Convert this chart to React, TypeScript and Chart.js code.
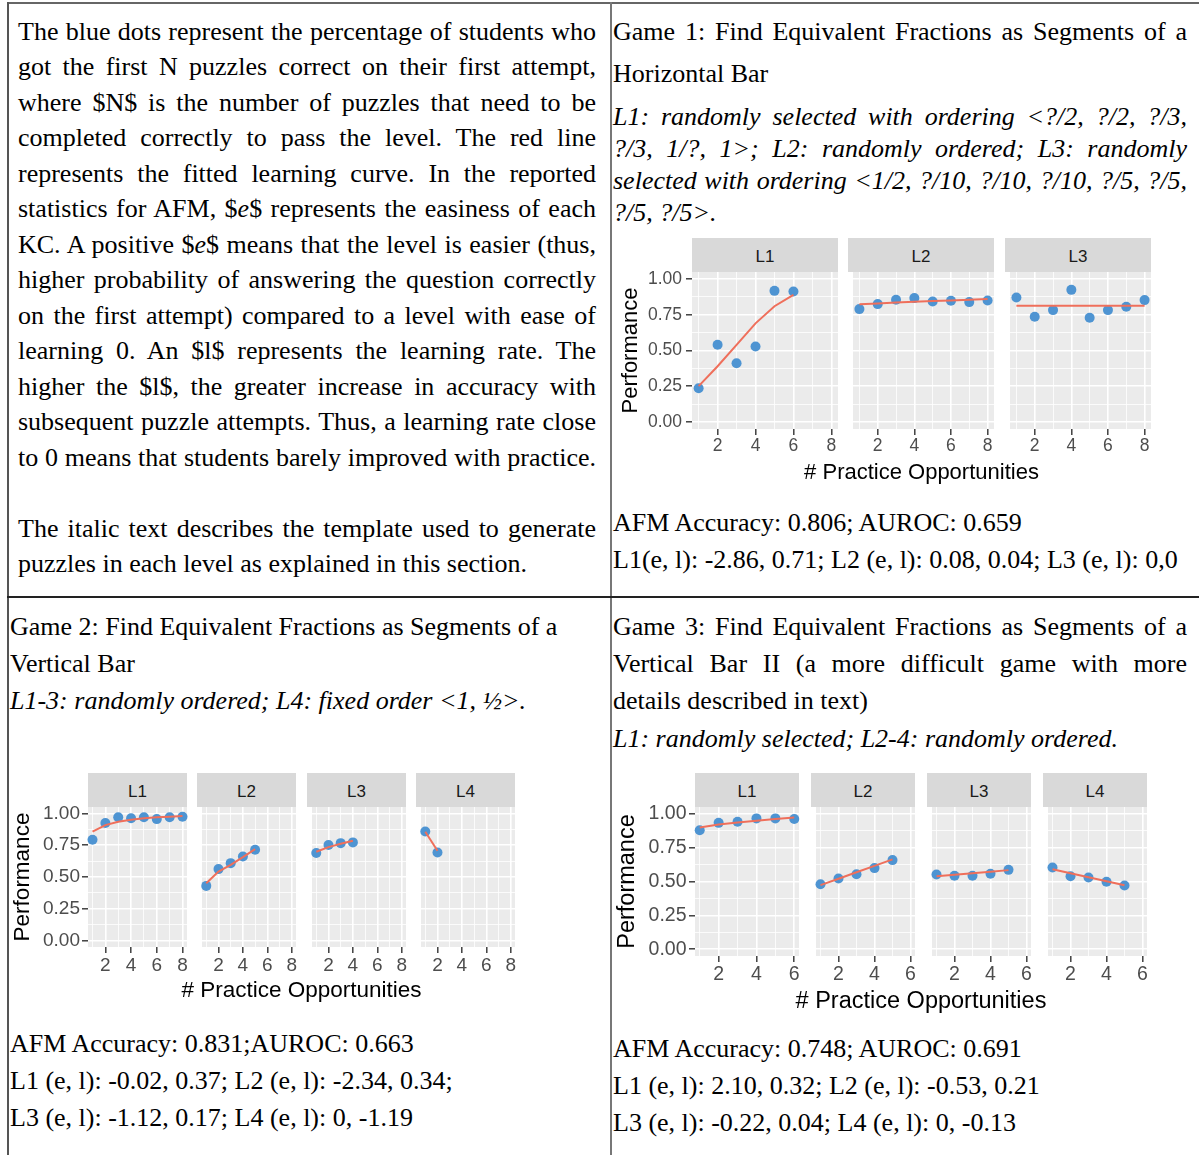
import React, { useEffect, useRef } from 'react';
import { Chart, registerables } from 'chart.js';

Chart.register(...registerables);

// ---------- data ----------
const game1Levels = ['L1', 'L2', 'L3'];
const game1Observed = [
  [0.236, 0.54, 0.411, 0.528, 0.918, 0.914],
  [0.79, 0.825, 0.855, 0.867, 0.843, 0.848, 0.839, 0.85],
  [0.871, 0.736, 0.783, 0.925, 0.729, 0.783, 0.806, 0.853],
];
const game1Fitted = [
  [0.25, 0.39, 0.54, 0.69, 0.81, 0.89],
  [0.824, 0.83, 0.836, 0.841, 0.846, 0.851, 0.856, 0.861],
  [0.813, 0.813, 0.813, 0.813, 0.813, 0.813, 0.813, 0.813],
];
const game1XTicks = [2, 4, 6, 8];

const game2Levels = ['L1', 'L2', 'L3', 'L4'];
const game2Observed = [
  [0.793, 0.924, 0.969, 0.961, 0.969, 0.955, 0.969, 0.974],
  [0.43, 0.562, 0.609, 0.661, 0.714],
  [0.688, 0.751, 0.766, 0.772],
  [0.858, 0.693],
];
const game2Fitted = [
  [0.856, 0.908, 0.934, 0.95, 0.961, 0.969, 0.974, 0.979],
  [0.451, 0.543, 0.596, 0.656, 0.719],
  [0.698, 0.735, 0.761, 0.785],
  [0.856, 0.706],
];
const game2XTicks = [2, 4, 6, 8];

const game3Levels = ['L1', 'L2', 'L3', 'L4'];
const game3Observed = [
  [0.879, 0.933, 0.941, 0.966, 0.966, 0.961],
  [0.48, 0.522, 0.554, 0.599, 0.658],
  [0.552, 0.542, 0.542, 0.557, 0.586],
  [0.603, 0.539, 0.53, 0.498, 0.47],
];
const game3Fitted = [
  [0.899, 0.921, 0.936, 0.948, 0.961, 0.973],
  [0.473, 0.52, 0.568, 0.615, 0.663],
  [0.539, 0.55, 0.561, 0.572, 0.584],
  [0.591, 0.561, 0.532, 0.502, 0.473],
];
const game3XTicks = [2, 4, 6];

const yTickValues = [0, 0.25, 0.5, 0.75, 1];
const yTickLabels = ['0.00', '0.25', '0.50', '0.75', '1.00'];
const yAxisTitle = 'Performance';
const xAxisTitle = '# Practice Opportunities';

// ---------- styling ----------
const BLUE = '#4e94d2';
const RED = '#ef6f5b';
const SANS = '"Liberation Sans", Arial, Helvetica, sans-serif';
const SERIF = '"Liberation Serif", "Times New Roman", serif';
const TOP_PAD = 10;
const RIGHT_PAD = 8;
const X_AXIS_H = 34;

type Layout = {
  panelLefts: number[];
  panelW: number;
  stripTop: number;
  panelTop: number;
  panelBottom: number;
  tickFont: number;
  titleFont: number;
  yTitleX: number;
  xTitleY: number;
  yLabelPad: number;
  xLabelPad: number;
};

const game1Layout: Layout = {
  panelLefts: [692, 848, 1005], panelW: 146, stripTop: 238, panelTop: 272, panelBottom: 429,
  tickFont: 17.5, titleFont: 22, yTitleX: 631, xTitleY: 472, yLabelPad: 4, xLabelPad: 1,
};
const game2Layout: Layout = {
  panelLefts: [88, 197, 307, 416], panelW: 99, stripTop: 773, panelTop: 807, panelBottom: 947,
  tickFont: 19, titleFont: 22.5, yTitleX: 23, xTitleY: 990, yLabelPad: 2, xLabelPad: 1,
};
const game3Layout: Layout = {
  panelLefts: [695, 811, 927, 1043], panelW: 104, stripTop: 773, panelTop: 807, panelBottom: 956,
  tickFont: 19.5, titleFont: 23.5, yTitleX: 628, xTitleY: 1000, yLabelPad: 2.5, xLabelPad: 1,
};

const panelBackground = {
  id: 'panelBackground',
  beforeDraw(chart: any) {
    const { ctx, chartArea } = chart;
    ctx.save();
    ctx.fillStyle = '#ebebeb';
    ctx.fillRect(chartArea.left, chartArea.top, chartArea.right - chartArea.left, chartArea.bottom - chartArea.top);
    ctx.restore();
  },
};

type FacetProps = {
  observed: number[];
  fitted: number[];
  xTicks: number[];
  layout: Layout;
  index: number;
};

function Facet({ observed, fitted, xTicks, layout, index }: FacetProps) {
  const ref = useRef<HTMLCanvasElement>(null);
  const first = index === 0;
  const panelLeft = layout.panelLefts[index];
  const panelH = layout.panelBottom - layout.panelTop;
  const yAxisW = first ? panelLeft - Math.round(layout.yTitleX - layout.titleFont / 2) : 0;
  const canvasLeft = panelLeft - yAxisW;
  const canvasTop = layout.panelTop - TOP_PAD;
  const width = yAxisW + layout.panelW + RIGHT_PAD;
  const height = TOP_PAD + panelH + X_AXIS_H;

  useEffect(() => {
    const lastTick = xTicks[xTicks.length - 1];
    const xGrid: number[] = [];
    for (let v = 1; v <= lastTick; v++) xGrid.push(v);
    const spread = (lastTick - 1) * 0.05;
    const yGrid: number[] = [];
    yTickValues.forEach((v, i) => {
      yGrid.push(v);
      if (i < yTickValues.length - 1) yGrid.push((v + yTickValues[i + 1]) / 2);
    });
    const isMajorX = (v: number) => xTicks.includes(v);
    const isMajorY = (v: number) => yTickValues.includes(v);
    const zeroPad = (s: any) => {
      s.paddingLeft = 0; s.paddingRight = 0; s.paddingTop = 0; s.paddingBottom = 0;
    };

    const chart = new Chart(ref.current as HTMLCanvasElement, {
      type: 'scatter',
      data: {
        datasets: [
          {
            data: fitted.map((y, i) => ({ x: i + 1, y })),
            showLine: true,
            borderColor: RED,
            borderWidth: 2,
            pointRadius: 0,
            clip: false,
          } as any,
          {
            data: observed.map((y, i) => ({ x: i + 1, y })),
            pointRadius: 5,
            pointBackgroundColor: BLUE,
            pointBorderWidth: 0,
            clip: false,
          } as any,
        ],
      },
      options: {
        animation: false,
        responsive: false,
        maintainAspectRatio: false,
        layout: { padding: { top: TOP_PAD, right: RIGHT_PAD, left: 0, bottom: 0 } },
        plugins: { legend: { display: false }, tooltip: { enabled: false } },
        scales: {
          x: {
            type: 'linear',
            min: 1 - spread,
            max: lastTick + spread,
            afterBuildTicks: (s: any) => { s.ticks = xGrid.map((v) => ({ value: v })); },
            afterFit: (s: any) => { s.height = X_AXIS_H; zeroPad(s); },
            border: { display: false },
            grid: {
              color: '#ffffff',
              lineWidth: (c: any) => (c.tick && isMajorX(c.tick.value) ? 1.6 : 0.8),
              drawTicks: true,
              tickLength: 6,
              tickWidth: 1.4,
              tickColor: (c: any) => (c.tick && isMajorX(c.tick.value) ? '#333333' : 'rgba(0,0,0,0)'),
            },
            ticks: {
              autoSkip: false,
              maxRotation: 0,
              minRotation: 0,
              padding: layout.xLabelPad,
              color: '#4d4d4d',
              font: { family: SANS, size: layout.tickFont },
              callback: (v: any) => (isMajorX(Number(v)) ? String(v) : ''),
            },
          },
          y: {
            type: 'linear',
            min: -0.05,
            max: 1.05,
            afterBuildTicks: (s: any) => { s.ticks = yGrid.map((v) => ({ value: v })); },
            afterFit: (s: any) => { s.width = yAxisW; zeroPad(s); },
            border: { display: false },
            grid: {
              color: '#ffffff',
              lineWidth: (c: any) => (c.tick && isMajorY(c.tick.value) ? 1.6 : 0.8),
              drawTicks: first,
              tickLength: 6,
              tickWidth: 1.4,
              tickColor: (c: any) => (c.tick && isMajorY(c.tick.value) ? '#333333' : 'rgba(0,0,0,0)'),
            },
            ticks: {
              display: first,
              autoSkip: false,
              padding: layout.yLabelPad,
              color: '#4d4d4d',
              font: { family: SANS, size: layout.tickFont },
              callback: (v: any) => {
                const k = yTickValues.indexOf(Number(v));
                return k >= 0 ? yTickLabels[k] : '';
              },
            },
            title: {
              display: first,
              text: yAxisTitle,
              color: '#000000',
              padding: 0,
              font: { family: SANS, size: layout.titleFont, lineHeight: 1 },
            },
          },
        },
      } as any,
      plugins: [panelBackground],
    });
    return () => chart.destroy();
  }, []);

  return (
    <canvas
      ref={ref}
      width={width}
      height={height}
      style={{ position: 'absolute', left: canvasLeft, top: canvasTop, width, height }}
    />
  );
}

function FacetFigure({ levels, observed, fitted, xTicks, layout }: {
  levels: string[]; observed: number[][]; fitted: number[][]; xTicks: number[]; layout: Layout;
}) {
  const lastLeft = layout.panelLefts[layout.panelLefts.length - 1];
  const titleCenter = (layout.panelLefts[0] + lastLeft + layout.panelW) / 2;
  return (
    <>
      {levels.map((lv, i) => (
        <div
          key={'strip' + lv}
          style={{
            position: 'absolute',
            left: layout.panelLefts[i],
            top: layout.stripTop,
            width: layout.panelW,
            height: layout.panelTop - layout.stripTop,
            background: '#d9d9d9',
            color: '#1a1a1a',
            fontFamily: SANS,
            fontSize: 17,
            display: 'flex',
            alignItems: 'center',
            justifyContent: 'center',
            paddingTop: 3,
            boxSizing: 'border-box',
          }}
        >
          {lv}
        </div>
      ))}
      {levels.map((lv, i) => (
        <Facet key={'facet' + lv} observed={observed[i]} fitted={fitted[i]} xTicks={xTicks} layout={layout} index={i} />
      ))}
      <div
        style={{
          position: 'absolute',
          left: titleCenter - 200,
          width: 400,
          top: layout.xTitleY - 14,
          height: 28,
          lineHeight: '28px',
          textAlign: 'center',
          fontFamily: SANS,
          fontSize: layout.titleFont,
          color: '#000',
          whiteSpace: 'nowrap',
        }}
      >
        {xAxisTitle}
      </div>
    </>
  );
}

type LineSpec = { x: number; w: number; y: number; justify?: boolean; italic?: boolean; content: React.ReactNode };

function TextLine({ x, w, y, justify, italic, content }: LineSpec) {
  return (
    <div
      style={{
        position: 'absolute',
        left: x,
        top: y - 15,
        width: w,
        height: 30,
        lineHeight: '30px',
        fontSize: 26,
        fontFamily: SERIF,
        fontStyle: italic ? 'italic' : 'normal',
        color: '#000',
        whiteSpace: 'nowrap',
        textAlign: justify ? 'justify' : 'left',
        textAlignLast: justify ? 'justify' : 'left',
      } as React.CSSProperties}
    >
      {content}
    </div>
  );
}

const E = <>$<i>e</i>$</>;

const leftX = 18;
const leftW = 578;
const introLines: LineSpec[] = [
  { x: leftX, w: leftW, y: 32, justify: true, content: 'The blue dots represent the percentage of students who' },
  { x: leftX, w: leftW, y: 67, justify: true, content: 'got the first N puzzles correct on their first attempt,' },
  { x: leftX, w: leftW, y: 103, justify: true, content: 'where $N$ is the number of puzzles that need to be' },
  { x: leftX, w: leftW, y: 138, justify: true, content: 'completed correctly to pass the level. The red line' },
  { x: leftX, w: leftW, y: 174, justify: true, content: 'represents the fitted learning curve. In the reported' },
  { x: leftX, w: leftW, y: 209, justify: true, content: <>statistics for AFM, {E} represents the easiness of each</> },
  { x: leftX, w: leftW, y: 245, justify: true, content: <>KC. A positive {E} means that the level is easier (thus,</> },
  { x: leftX, w: leftW, y: 280, justify: true, content: 'higher probability of answering the question correctly' },
  { x: leftX, w: leftW, y: 316, justify: true, content: 'on the first attempt) compared to a level with ease of' },
  { x: leftX, w: leftW, y: 351, justify: true, content: 'learning 0. An $l$ represents the learning rate. The' },
  { x: leftX, w: leftW, y: 387, justify: true, content: 'higher the $l$, the greater increase in accuracy with' },
  { x: leftX, w: leftW, y: 422, justify: true, content: 'subsequent puzzle attempts. Thus, a learning rate close' },
  { x: leftX, w: leftW, y: 458, justify: true, content: 'to 0 means that students barely improved with practice.' },
  { x: leftX, w: leftW, y: 529, justify: true, content: 'The italic text describes the template used to generate' },
  { x: leftX, w: leftW, y: 564, content: 'puzzles in each level as explained in this section.' },
];

const rightX = 613;
const rightW = 574;
const game1Lines: LineSpec[] = [
  { x: rightX, w: rightW, y: 32, justify: true, content: 'Game 1: Find Equivalent Fractions as Segments of a' },
  { x: rightX, w: rightW, y: 74, content: 'Horizontal Bar' },
  { x: rightX, w: rightW, y: 117, justify: true, italic: true, content: 'L1: randomly selected with ordering <?/2, ?/2, ?/3,' },
  { x: rightX, w: rightW, y: 149, justify: true, italic: true, content: '?/3, 1/?, 1>; L2: randomly ordered; L3: randomly' },
  { x: rightX, w: rightW, y: 181, justify: true, italic: true, content: 'selected with ordering <1/2, ?/10, ?/10, ?/10, ?/5, ?/5,' },
  { x: rightX, w: rightW, y: 213, italic: true, content: '?/5, ?/5>.' },
  { x: rightX, w: rightW, y: 523, content: 'AFM Accuracy: 0.806; AUROC: 0.659' },
  { x: rightX, w: rightW, y: 560, content: 'L1(e, l): -2.86, 0.71; L2 (e, l): 0.08, 0.04; L3 (e, l): 0,0' },
];

const game2X = 10;
const game2Lines: LineSpec[] = [
  { x: game2X, w: 590, y: 627, content: 'Game 2: Find Equivalent Fractions as Segments of a' },
  { x: game2X, w: 590, y: 664, content: 'Vertical Bar' },
  { x: game2X, w: 590, y: 701, italic: true, content: 'L1-3: randomly ordered; L4: fixed order <1, ½>.' },
  { x: game2X, w: 590, y: 1044, content: 'AFM Accuracy: 0.831;AUROC: 0.663' },
  { x: game2X, w: 590, y: 1081, content: 'L1 (e, l): -0.02, 0.37; L2 (e, l): -2.34, 0.34;' },
  { x: game2X, w: 590, y: 1118, content: 'L3 (e, l): -1.12, 0.17; L4 (e, l): 0, -1.19' },
];

const game3Lines: LineSpec[] = [
  { x: rightX, w: rightW, y: 627, justify: true, content: 'Game 3: Find Equivalent Fractions as Segments of a' },
  { x: rightX, w: rightW, y: 664, justify: true, content: 'Vertical Bar II (a more difficult game with more' },
  { x: rightX, w: rightW, y: 701, content: 'details described in text)' },
  { x: rightX, w: rightW, y: 739, italic: true, content: 'L1: randomly selected; L2-4: randomly ordered.' },
  { x: rightX, w: rightW, y: 1049, content: 'AFM Accuracy: 0.748; AUROC: 0.691' },
  { x: rightX, w: rightW, y: 1086, content: 'L1 (e, l): 2.10, 0.32; L2 (e, l): -0.53, 0.21' },
  { x: rightX, w: rightW, y: 1123, content: 'L3 (e, l): -0.22, 0.04; L4 (e, l): 0, -0.13' },
];

function Rule({ left, top, width, height, color }: { left: number; top: number; width: number; height: number; color: string }) {
  return <div style={{ position: 'absolute', left, top, width, height, background: color }} />;
}

export default function App() {
  const allLines = [...introLines, ...game1Lines, ...game2Lines, ...game3Lines];
  return (
    <div
      style={{
        position: 'absolute',
        left: 0,
        top: 0,
        width: 1199,
        height: 1155,
        overflow: 'hidden',
        background: '#ffffff',
      }}
    >
      {/* table rules */}
      <Rule left={7} top={2} width={1192} height={2} color="#666666" />
      <Rule left={7} top={2} width={2} height={1153} color="#555555" />
      <Rule left={610} top={2} width={2} height={1153} color="#777777" />
      <Rule left={7} top={596} width={1192} height={1.5} color="#222222" />

      {allLines.map((l, i) => (
        <TextLine key={i} {...l} />
      ))}

      <FacetFigure levels={game1Levels} observed={game1Observed} fitted={game1Fitted} xTicks={game1XTicks} layout={game1Layout} />
      <FacetFigure levels={game2Levels} observed={game2Observed} fitted={game2Fitted} xTicks={game2XTicks} layout={game2Layout} />
      <FacetFigure levels={game3Levels} observed={game3Observed} fitted={game3Fitted} xTicks={game3XTicks} layout={game3Layout} />
    </div>
  );
}
